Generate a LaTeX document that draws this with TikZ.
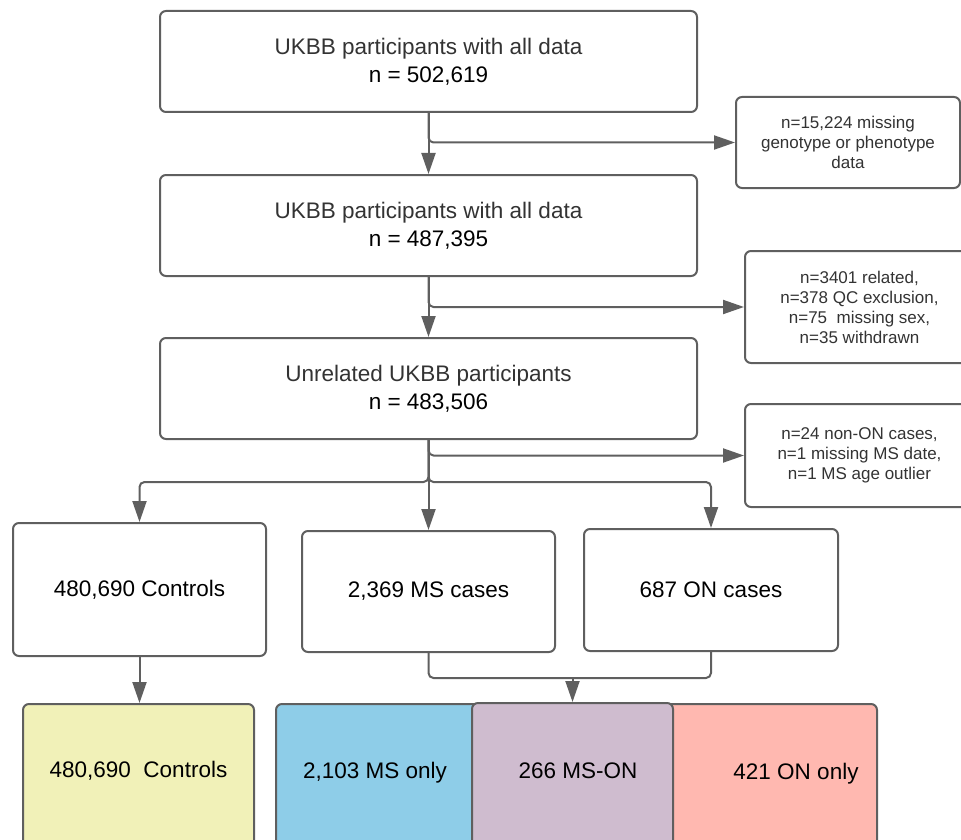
\documentclass[tikz,border=0pt]{standalone}
\usepackage{fontspec}
\setmainfont{Liberation Sans}
\usetikzlibrary{arrows.meta}

\definecolor{linegray}{HTML}{5F5F5F}
\definecolor{textgray}{HTML}{333333}
\definecolor{ctrlyellow}{HTML}{F1F1B8}
\definecolor{msblue}{HTML}{8ECDE8}
\definecolor{msonpurple}{HTML}{CFBCCF}
\definecolor{onpink}{HTML}{FFB8B0}

\tikzset{
  box/.style={draw=linegray, line width=2pt, rounded corners=6pt, fill=white, align=center, inner sep=0pt},
  mainbox/.style={box, minimum width=537pt, minimum height=101pt, font=\fontsize{22.5}{28}\selectfont},
  sidebox/.style={box, font=\fontsize{17}{20}\selectfont, text=textgray},
  casebox/.style={box, font=\fontsize{22.5}{27}\selectfont},
  finalbox/.style={box, minimum height=180pt},
  bigtext/.style={font=\fontsize{22.5}{27}\selectfont, inner sep=0pt},
  link/.style={draw=linegray, line width=2pt, rounded corners=5pt},
  flow/.style={link, -{Triangle[length=21pt,width=14pt]}}
}

\begin{document}
\begin{tikzpicture}[x=1pt,y=-1pt]
    \useasboundingbox (0,0) rectangle (961,840);
    \clip (0,0) rectangle (961,840);

    % Main steps
    \node[mainbox] (all1) at (428.5,61.5) {{\color{textgray}UKBB participants with all data}\\n = 502,619};
    \node[mainbox] (all2) at (428.5,225.5) {{\color{textgray}UKBB participants with all data}\\n = 487,395};
    \node[mainbox] (unrel) at (428.5,388.5) {{\color{textgray}Unrelated UKBB participants}\\n = 483,506};

    % Exclusions
    \node[sidebox, minimum width=224pt, minimum height=91pt] (excl1) at (848,142.5) {n=15,224 missing\\genotype or phenotype\\data};
    \node[sidebox, minimum width=229pt, minimum height=112pt] (excl2) at (859.5,307) {n=3401 related,\\n=378 QC exclusion,\\n=75\ \ missing sex,\\n=35 withdrawn};
    \node[sidebox, minimum width=229pt, minimum height=103pt] (excl3) at (859.5,455.5) {n=24 non-ON cases,\\n=1 missing MS date,\\n=1 MS age outlier};

    % Case groups
    \node[casebox, minimum width=253pt, minimum height=133pt] (ctrl) at (139.5,589.5) {480,690 Controls};
    \node[casebox, minimum width=253pt, minimum height=121pt] (ms) at (428.5,591.5) {2,369 MS cases};
    \node[casebox, minimum width=254pt, minimum height=122pt] (on) at (711,590) {687 ON cases};

    % Final groups
    \node[finalbox, fill=ctrlyellow, minimum width=231pt, anchor=north] (fctrl) at (138.5,703) {};
    \node[finalbox, fill=msblue, minimum width=204pt, anchor=north] (msonly) at (378,703) {};
    \node[finalbox, fill=onpink, minimum width=237pt, anchor=north] (ononly) at (758.5,703) {};
    \node[finalbox, fill=msonpurple, minimum width=201pt, anchor=north] (mson) at (572.5,702) {};
    \node[bigtext] (fctrl-t) at (138.5,771) {480,690\ \ Controls};
    \node[bigtext] (msonly-t) at (375,773) {2,103 MS only};
    \node[bigtext] (mson-t) at (578,771) {266 MS-ON};
    \node[bigtext] (ononly-t) at (796,774) {421 ON only};

    % Connectors
    \draw[flow] (all1.south) -- (all2.north);
    \draw[flow] (all1.south) |- (excl1.west);
    \draw[flow] (all2.south) -- (unrel.north);
    \draw[flow] (all2.south) |- (excl2.west);
    \draw[flow] (unrel.south) |- (excl3.west);
    \draw[flow] (unrel.south) -- (ms.north);
    \draw[flow] (unrel.south) -- ++(0,42) -| (ctrl.north);
    \draw[flow] (unrel.south) -- ++(0,42) -| (on.north);
    \draw[flow] (ctrl.south) -- (ctrl.south |- fctrl.north);
    \draw[link] (ms.south) -- ++(0,25) -| (on.south);
    \coordinate (join) at (572.5,677);
    \draw[flow] (join) -- (mson.north);
\end{tikzpicture}
\end{document}
